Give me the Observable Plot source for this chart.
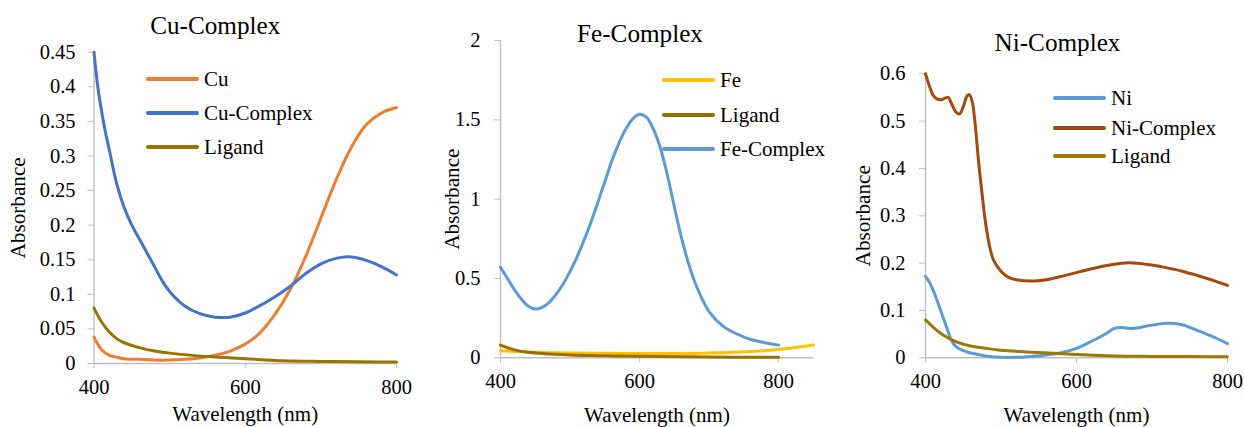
<!DOCTYPE html>
<html><head><meta charset="utf-8">
<script src="https://cdn.jsdelivr.net/npm/d3@7"></script>
<script src="https://cdn.jsdelivr.net/npm/@observablehq/plot@0.6"></script>
<style>
body{margin:0;background:#fff;}
#root{position:relative;width:1244px;height:427px;overflow:hidden;font-family:"Liberation Serif","DejaVu Serif",serif;background:#fff;}
.panel{position:absolute;top:0;}
.panel text{font-family:"Liberation Serif","DejaVu Serif",serif !important;}
.leg{position:absolute;display:flex;align-items:center;font-family:"Liberation Serif","DejaVu Serif",serif;font-size:21px;line-height:21px;color:#000;white-space:nowrap;height:20px;}
.leg .sw{display:inline-block;height:4px;border-radius:2px;margin-right:5px;}
</style></head><body><div id="root"></div>
<script>
// ---------- Cu panel ----------
const cuWl = [400,410,420,430,440,460,480,500,520,540,560,580,600,620,640,660,680,700,720,740,760,780,800];
const cuAbs = [0.038,0.02,0.012,0.009,0.007,0.006,0.005,0.005,0.006,0.008,0.012,0.018,0.028,0.045,0.072,0.108,0.155,0.21,0.265,0.312,0.345,0.362,0.37];
const cuCxWl = [400,405,410,415,420,430,440,450,460,470,480,490,500,520,540,560,580,600,620,640,660,680,700,720,740,760,780,800];
const cuCxAbs = [0.45,0.40,0.365,0.335,0.31,0.26,0.225,0.2,0.18,0.16,0.14,0.12,0.104,0.083,0.072,0.067,0.067,0.073,0.084,0.097,0.112,0.13,0.144,0.152,0.154,0.149,0.14,0.128];
const cuLigWl = [400,410,420,430,440,460,480,500,550,600,650,700,750,800];
const cuLigAbs = [0.08,0.06,0.046,0.036,0.03,0.023,0.018,0.015,0.01,0.007,0.004,0.003,0.0025,0.002];
const cuYTicks = [0,0.05,0.1,0.15,0.2,0.25,0.3,0.35,0.4,0.45];

// ---------- Fe panel ----------
const feWl = [400,450,500,550,600,650,700,750,800,850];
const feAbs = [0.045,0.035,0.03,0.028,0.027,0.027,0.03,0.038,0.052,0.08];
const feLigWl = [400,420,440,460,500,550,600,700,800];
const feLigAbs = [0.08,0.05,0.035,0.027,0.018,0.013,0.01,0.005,0.003];
const feCxWl = [400,410,420,430,440,450,460,470,480,490,500,510,520,530,540,550,560,570,580,590,600,610,620,630,640,650,660,670,680,690,700,720,740,760,780,800];
const feCxAbs = [0.57,0.5,0.43,0.37,0.325,0.307,0.318,0.35,0.4,0.465,0.545,0.635,0.74,0.855,0.98,1.11,1.24,1.35,1.44,1.505,1.535,1.515,1.44,1.32,1.15,0.95,0.76,0.6,0.47,0.37,0.29,0.2,0.15,0.115,0.095,0.08];
const feYTicks = [0,0.5,1,1.5,2];

// ---------- Ni panel ----------
const niWl = [400,405,410,415,420,425,430,435,440,445,450,460,480,500,520,540,560,580,600,620,640,650,660,670,680,700,720,740,760,780,800];
const niAbs = [0.172,0.16,0.143,0.123,0.1,0.078,0.055,0.035,0.024,0.019,0.015,0.01,0.004,0.001,0.001,0.003,0.006,0.011,0.02,0.035,0.052,0.062,0.064,0.062,0.063,0.069,0.073,0.07,0.058,0.045,0.03];
const niCxWl = [400,405,410,415,420,425,430,435,440,445,450,455,458,462,466,470,475,480,485,490,500,510,520,540,560,580,600,620,640,660,680,700,720,740,760,780,800];
const niCxAbs = [0.6,0.575,0.555,0.547,0.545,0.548,0.55,0.535,0.52,0.515,0.53,0.553,0.556,0.54,0.49,0.42,0.345,0.28,0.235,0.207,0.183,0.17,0.165,0.162,0.165,0.172,0.18,0.188,0.195,0.2,0.2,0.196,0.19,0.183,0.174,0.164,0.153];
const niLigWl = [400,410,420,430,440,450,460,480,500,550,600,650,700,800];
const niLigAbs = [0.08,0.065,0.052,0.042,0.034,0.029,0.025,0.02,0.016,0.011,0.007,0.004,0.003,0.002];
const niYTicks = [0,0.1,0.2,0.3,0.4,0.5,0.6];

const xTicks = [400,600,800];

const FONT = '"Liberation Serif","DejaVu Serif",serif';
const AXIS = "#bfbfbf";

const panels = [
  {title:"Cu-Complex", left:0, width:420, mL:93.5, mR:24, mT:51.7, mB:64, xDomain:[400,800], yDomain:[0,0.45], yTicks:cuYTicks,
   titleDx:-30, titleDy:-26.7, ylabDx:-75.5, xlabDy:51, yPad:12.5,
   series:[
     {name:"Cu", wl:cuWl, v:cuAbs, color:"#ED7D31"},
     {name:"Cu-Complex", wl:cuCxWl, v:cuCxAbs, color:"#4472C4"},
     {name:"Ligand", wl:cuLigWl, v:cuLigAbs, color:"#9B7400"}],
   legend:{x:146, ys:[79,113,147]}},
  {title:"Fe-Complex", left:420, width:430, mL:80, mR:37, mT:40, mB:69.7, xDomain:[400,850], yDomain:[0,2], yTicks:feYTicks,
   titleDx:-17, titleDy:-7, ylabDx:-48, xlabDy:57, yPad:14,
   series:[
     {name:"Fe", wl:feWl, v:feAbs, color:"#FFC000"},
     {name:"Ligand", wl:feLigWl, v:feLigAbs, color:"#987000"},
     {name:"Fe-Complex", wl:feCxWl, v:feCxAbs, color:"#5B9BD5"}],
   legend:{x:242, ys:[80,115,149]}},
  {title:"Ni-Complex", left:850, width:394, mL:75, mR:17, mT:73.3, mB:69.7, xDomain:[400,800], yDomain:[0,0.6], yTicks:niYTicks,
   titleDx:-19, titleDy:-31, ylabDx:-62, xlabDy:57, yPad:14,
   series:[
     {name:"Ni", wl:niWl, v:niAbs, color:"#5B9BD5"},
     {name:"Ni-Complex", wl:niCxWl, v:niCxAbs, color:"#A5490F"},
     {name:"Ligand", wl:niLigWl, v:niLigAbs, color:"#9E7804"}],
   legend:{x:203, ys:[98,128,156]}}
];

const root = document.getElementById("root");

for (const p of panels) {
  const lineMarks = p.series.map(s => {
    const rows = s.wl.map((w, i) => ({wl: w, abs: s.v[i]}));
    return Plot.line(rows, {x: "wl", y: "abs", stroke: s.color, strokeWidth: 3, curve: "catmull-rom", strokeLinejoin: "round", strokeLinecap: "round"});
  });
  const chart = Plot.plot({
    width: p.width, height: 427,
    marginLeft: p.mL, marginRight: p.mR, marginTop: p.mT, marginBottom: p.mB,
    style: {fontFamily: FONT, fontSize: "20px", background: "transparent", color: "#000", overflow: "visible"},
    x: {domain: p.xDomain},
    y: {domain: p.yDomain},
    marks: [
      Plot.ruleY([0], {stroke: AXIS, strokeWidth: 1.4}),
      Plot.ruleX([p.xDomain[0]], {stroke: AXIS, strokeWidth: 1.4}),
      Plot.axisX({ticks: xTicks, tickSize: 5, tickPadding: 11, stroke: AXIS, fill: "#000", label: null, fontSize: 20.5, fontFamily: FONT, tickFormat: d => String(d)}),
      Plot.axisY({ticks: p.yTicks, tickSize: 6, tickPadding: p.yPad, stroke: AXIS, fill: "#000", label: null, fontSize: 20.5, fontFamily: FONT, tickFormat: d => String(d)}),
      ...lineMarks,
      Plot.text([p.title], {text: d => d, frameAnchor: "top", lineAnchor: "middle", dx: p.titleDx, dy: p.titleDy, fontSize: 25.2, fontFamily: FONT, textAnchor: "middle", fill: "#000"}),
      Plot.text(["Absorbance"], {text: d => d, frameAnchor: "left", lineAnchor: "middle", dx: p.ylabDx, rotate: -90, fontSize: 21.2, fontFamily: FONT, textAnchor: "middle", fill: "#000"}),
      Plot.text(["Wavelength (nm)"], {text: d => d, frameAnchor: "bottom", lineAnchor: "middle", dy: p.xlabDy, fontSize: 21, fontFamily: FONT, textAnchor: "middle", fill: "#000"})
    ]
  });
  chart.classList.add("panel");
  chart.style.left = p.left + "px";
  root.appendChild(chart);

  p.series.forEach((s, i) => {
    const d = document.createElement("div");
    d.className = "leg";
    d.style.left = (p.left + p.legend.x) + "px";
    d.style.top = (p.legend.ys[i] - 10) + "px";
    const sw = document.createElement("span");
    sw.className = "sw";
    sw.style.width = "53px";
    sw.style.background = s.color;
    const t = document.createElement("span");
    t.textContent = s.name;
    d.appendChild(sw); d.appendChild(t);
    root.appendChild(d);
  });
}
</script></body></html>
